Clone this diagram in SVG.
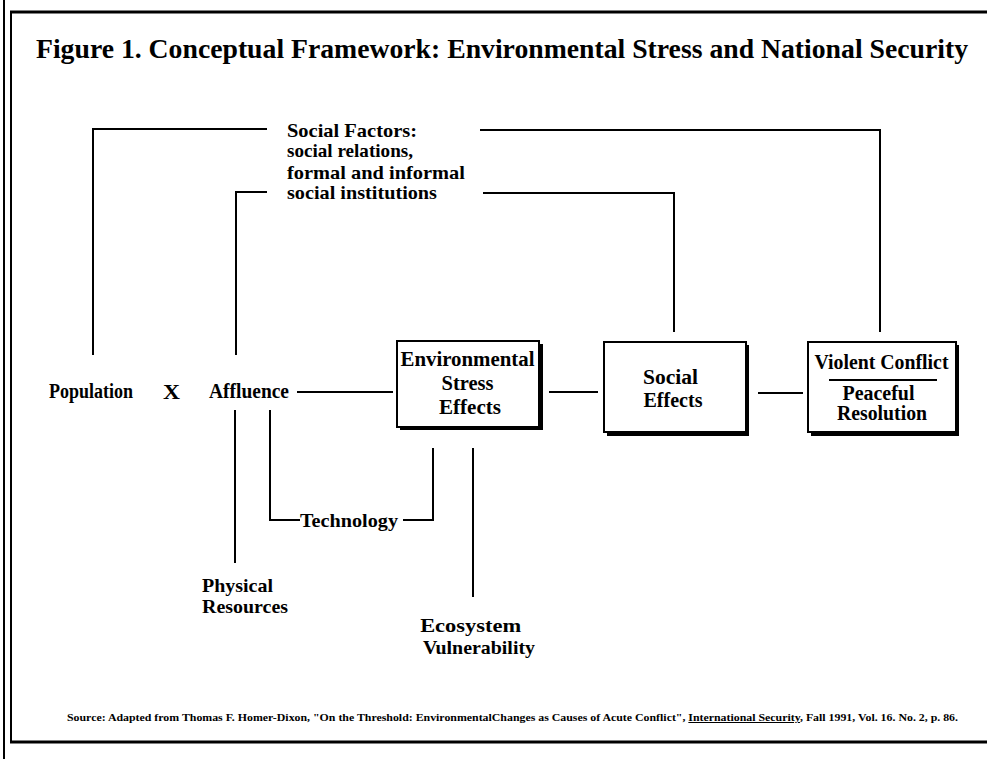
<svg xmlns="http://www.w3.org/2000/svg" width="987" height="759" viewBox="0 0 987 759">
<style>
  .t { font-family: "Liberation Serif", "Times New Roman", serif; font-weight: bold; fill: #000; }
  .lbl { font-size: 20px; }
  .mid { text-anchor: middle; }
  .ln { stroke: #000; stroke-width: 2; fill: none; }
  .box { fill: #fff; stroke: #000; stroke-width: 2; }
  .shadow { fill: #000; }
</style>
<rect width="987" height="759" fill="#fff"/>
<g id="frame" class="ln">
  <line x1="4" y1="0" x2="4" y2="759" stroke-width="2"/>
  <line x1="11" y1="12" x2="11" y2="742" stroke-width="2"/>
  <line x1="10" y1="12" x2="987" y2="12" stroke-width="3"/>
  <line x1="10" y1="742" x2="987" y2="742" stroke-width="3"/>
</g>
<text id="title" class="t" x="36" y="58" font-size="27" textLength="932" lengthAdjust="spacingAndGlyphs">Figure 1. Conceptual Framework:  Environmental Stress and National Security</text>
<g id="connectors" class="ln">
  <polyline points="267,129 93,129 93,355"/>
  <polyline points="267,192 236,192 236,355"/>
  <polyline points="480,130 880,130 880,332"/>
  <polyline points="483,193 674,193 674,332"/>
  <line x1="297" y1="392" x2="393" y2="392"/>
  <line x1="549" y1="392" x2="598" y2="392"/>
  <line x1="758" y1="393" x2="803" y2="393"/>
  <line x1="235" y1="410" x2="235" y2="563"/>
  <polyline points="270,410 270,520 300,520"/>
  <polyline points="403,520 433,520 433,448"/>
  <line x1="473" y1="448" x2="473" y2="597"/>
</g>
<g id="social-factors">
  <text class="t" font-size="19">
    <tspan x="287" y="137" textLength="130" lengthAdjust="spacingAndGlyphs">Social Factors:</tspan>
    <tspan x="287" y="157" textLength="126" lengthAdjust="spacingAndGlyphs">social relations,</tspan>
    <tspan x="287" y="179" textLength="178" lengthAdjust="spacingAndGlyphs">formal and informal</tspan>
    <tspan x="287" y="199" textLength="150" lengthAdjust="spacingAndGlyphs">social institutions</tspan>
  </text>
</g>
<g id="population">
  <text class="t lbl" x="49" y="398" textLength="84" lengthAdjust="spacingAndGlyphs">Population</text>
</g>
<g id="times">
  <text class="t" x="163" y="399" font-size="22" textLength="17" lengthAdjust="spacingAndGlyphs">X</text>
</g>
<g id="affluence">
  <text class="t lbl" x="209" y="398" textLength="80" lengthAdjust="spacingAndGlyphs">Affluence</text>
</g>
<g id="env-stress">
  <rect class="shadow" x="400" y="344" width="143" height="86"/>
  <rect class="box" x="397" y="341" width="142" height="86"/>
  <text class="t lbl mid">
    <tspan x="470" y="366" textLength="134" lengthAdjust="spacingAndGlyphs">Environmental</tspan>
    <tspan x="470" y="390" textLength="52" lengthAdjust="spacingAndGlyphs">Stress</tspan>
    <tspan x="470" y="414" textLength="62" lengthAdjust="spacingAndGlyphs">Effects</tspan>
  </text>
</g>
<g id="social-effects">
  <rect class="shadow" x="607" y="345" width="142" height="91"/>
  <rect class="box" x="604" y="342" width="142" height="90"/>
  <text class="t lbl mid">
    <tspan x="673" y="384" textLength="55" lengthAdjust="spacingAndGlyphs">Social</tspan>
    <tspan x="673" y="407" textLength="59" lengthAdjust="spacingAndGlyphs">Effects</tspan>
  </text>
</g>
<g id="conflict">
  <rect class="shadow" x="811" y="345" width="148" height="91"/>
  <rect class="box" x="808" y="342" width="148" height="90"/>
  <text class="t lbl mid">
    <tspan x="884" y="369" textLength="134" lengthAdjust="spacingAndGlyphs">Violent Conflict</tspan>
    <tspan x="881" y="400" textLength="72" lengthAdjust="spacingAndGlyphs">Peaceful</tspan>
    <tspan x="882" y="420" textLength="90" lengthAdjust="spacingAndGlyphs">Resolution</tspan>
  </text>
  <line class="ln" x1="829" y1="380" x2="937" y2="380"/>
</g>
<g id="technology">
  <text class="t" x="300" y="527" font-size="19" textLength="98" lengthAdjust="spacingAndGlyphs">Technology</text>
</g>
<g id="physical-resources">
  <text class="t" font-size="19">
    <tspan x="202" y="592" textLength="71" lengthAdjust="spacingAndGlyphs">Physical</tspan>
    <tspan x="202" y="613" textLength="86" lengthAdjust="spacingAndGlyphs">Resources</tspan>
  </text>
</g>
<g id="ecosystem">
  <text class="t mid" font-size="19">
    <tspan x="473" y="632" textLength="101" lengthAdjust="spacingAndGlyphs">Ecosystem</tspan>
    <tspan x="479" y="654" textLength="112" lengthAdjust="spacingAndGlyphs">Vulnerability</tspan>
  </text>
</g>
<g id="source">
  <text class="t" x="67" y="721" font-size="10" textLength="891" lengthAdjust="spacingAndGlyphs">Source:  Adapted from Thomas F. Homer-Dixon, "On the Threshold:  EnvironmentalChanges as Causes of Acute Conflict", <tspan text-decoration="underline">International Security</tspan>, Fall 1991, Vol. 16. No. 2, p. 86.</text>
</g>
</svg>
